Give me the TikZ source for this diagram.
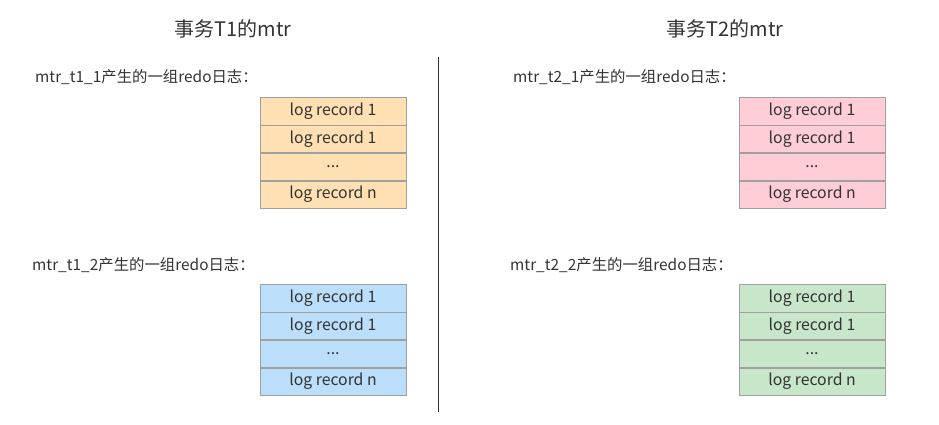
\documentclass[tikz,border=0pt]{standalone}
\usepackage{fontspec}
\setmainfont{Noto Sans CJK SC}
\definecolor{txtgray}{RGB}{51,51,51}
\definecolor{linegray}{RGB}{160,160,160}
\definecolor{orng}{RGB}{255,224,178}
\definecolor{blu}{RGB}{187,222,251}
\definecolor{pnk}{RGB}{255,205,214}
\definecolor{grn}{RGB}{200,230,201}

\begin{document}
\begin{tikzpicture}
      [x=1pt,y=-1pt
      ,rec/.style={draw=linegray,fill=#1,minimum width=146pt,minimum height=27.5pt,inner sep=0,anchor=north,text=txtgray,font=\fontsize{15.8}{18}\selectfont}
      ,lab/.style={anchor=west,inner sep=0,text=txtgray,font=\fontsize{15.4}{18}\selectfont}
      ,ttl/.style={inner sep=0,text=txtgray,font=\fontsize{20}{24}\selectfont}]
        \useasboundingbox (0,0) rectangle (939,424);
        \node[ttl] (T1) at (233,29) {事务T1的mtr};
        \node[ttl] (T2) at (725,29) {事务T2的mtr};
        \node[lab] (L11) at (35,77)  {mtr\_t1\_1产生的一组redo日志：};
        \node[lab] (L12) at (32,265) {mtr\_t1\_2产生的一组redo日志：};
        \node[lab] (L21) at (513,77) {mtr\_t2\_1产生的一组redo日志：};
        \node[lab] (L22) at (510,265) {mtr\_t2\_2产生的一组redo日志：};
        \foreach \name/\x/\y/\col in {A/333/97/orng,B/333/284/blu,C/812/97/pnk,D/812/284/grn}{
          \node[rec=\col] (\name1) at (\x,\y)       {log record 1};
          \node[rec=\col] (\name2) at (\name1.south) {log record 1};
          \node[rec=\col] (\name3) at (\name2.south) {...};
          \node[rec=\col] (\name4) at (\name3.south) {log record n};
        }
        \coordinate (top) at (438,57);
        \coordinate (bot) at (438,412);
        \draw[black!80,thick] (top) -- (bot);
      \end{tikzpicture}
\end{document}
